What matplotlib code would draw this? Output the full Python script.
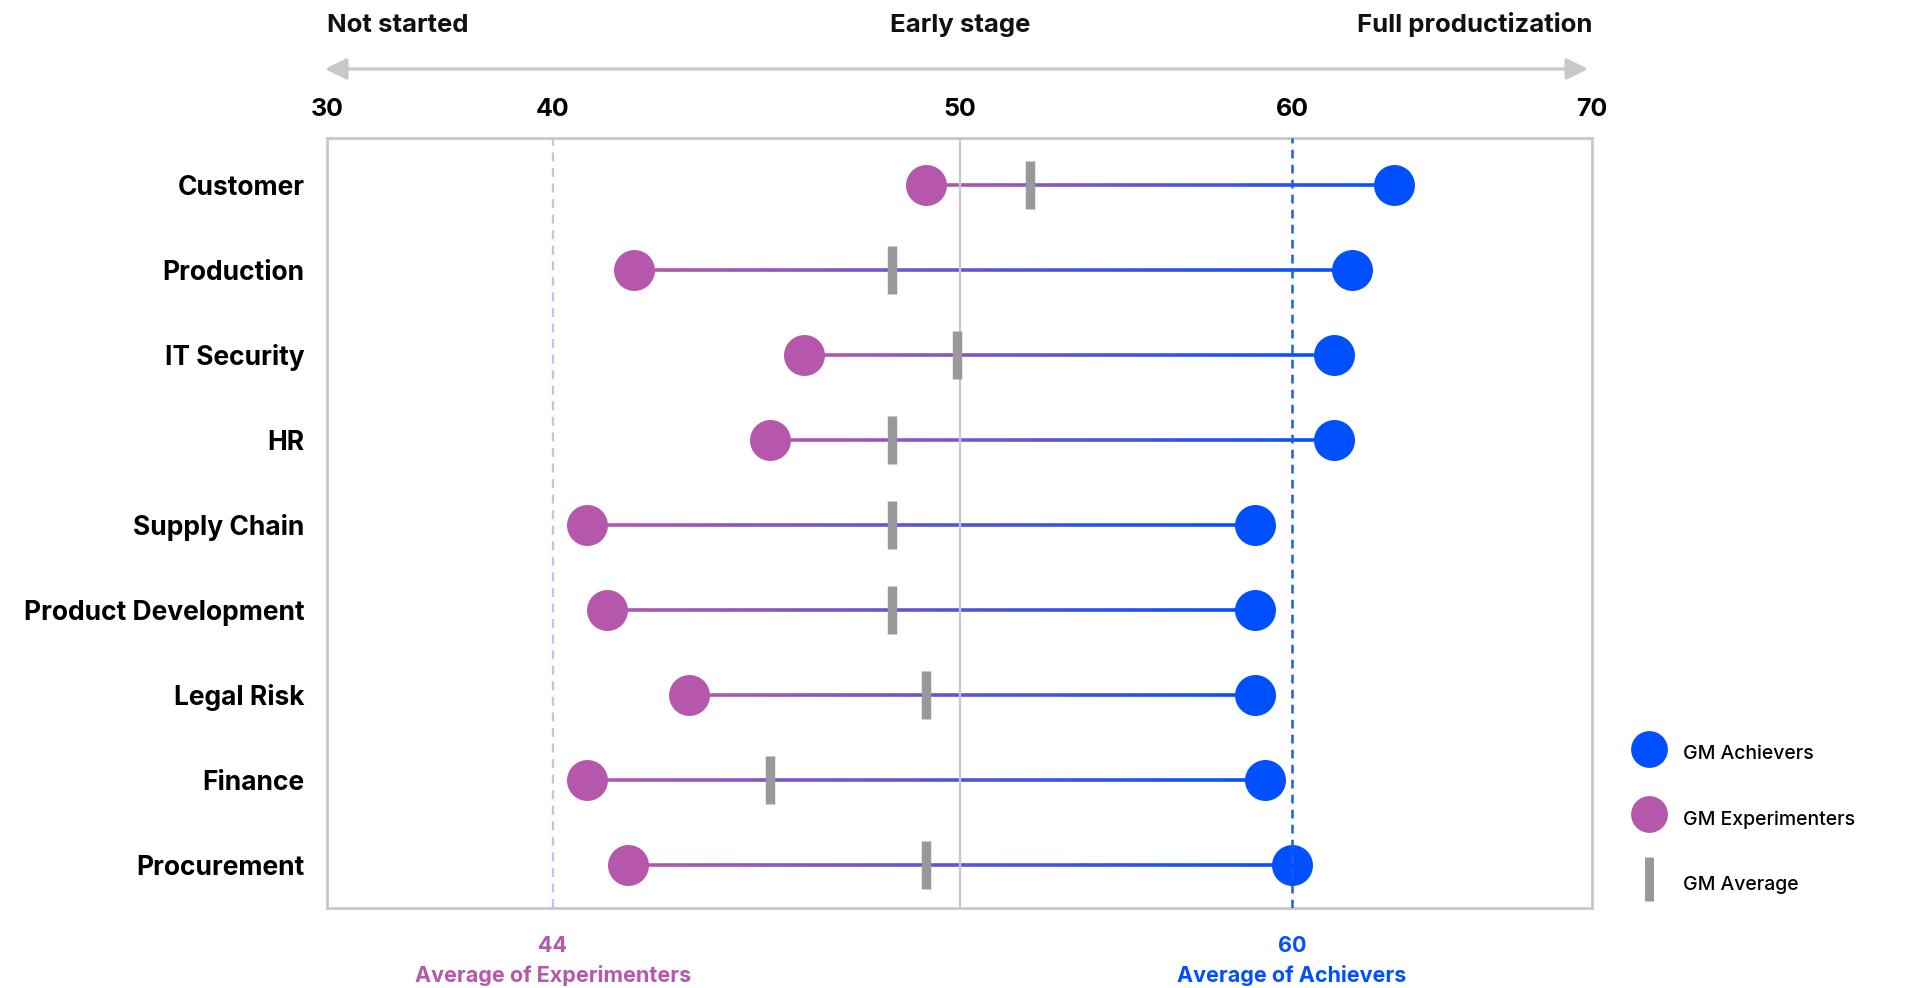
import matplotlib
matplotlib.use('Agg')
import matplotlib.pyplot as plt
import numpy as np
from matplotlib.collections import LineCollection
from matplotlib.lines import Line2D
from matplotlib.colors import to_rgb
from matplotlib.transforms import blended_transform_factory

plt.rcParams['font.family'] = ['Inter', 'DejaVu Sans']

functions = ['Customer', 'Production', 'IT Security', 'HR', 'Supply Chain',
             'Product Development', 'Legal Risk', 'Finance', 'Procurement']
experimenters = [49.5, 45.2, 47.7, 47.2, 44.5, 44.8, 46.0, 44.5, 45.1]
gm_average = [52.1, 49.0, 49.95, 49.0, 49.0, 49.0, 49.5, 47.2, 49.5]
achievers = [63.4, 62.0, 61.4, 61.4, 58.9, 58.9, 58.9, 59.2, 60.0]

avg_experimenters = 44
avg_achievers = 60
midpoint = 50

# axis is stretched piecewise between these breakpoints
scale_vals = [30, 44, 50, 60, 70]
scale_span = [0, 226, 633, 965, 1265]
tick_vals = [30, 44, 50, 60, 70]
tick_labels = ['30', '40', '50', '60', '70']
stage_vals = [30, 50, 70]
stages = ['Not started', 'Early stage', 'Full productization']

PURPLE = '#B558AB'
BLUE = '#0050FF'
GRAY = '#999999'
FRAME = '#C8C8C8'


def fwd(v):
    return np.interp(v, scale_vals, scale_span)


def inv(p):
    return np.interp(p, scale_span, scale_vals)


fig = plt.figure(figsize=(19.1, 9.88), dpi=100)
ax = fig.add_axes([0.1712, 0.0810, 0.6623, 0.7794])
ax.set_xscale('function', functions=(fwd, inv))
ax.set_xlim(30, 70)
ax.set_ylim(8.506, -0.553)

y = np.arange(len(functions))

# gradient connectors, evenly split in screen space
c0, c1 = np.array(to_rgb(PURPLE)), np.array(to_rgb(BLUE))
for yi, a, b in zip(y, experimenters, achievers):
    p = np.linspace(fwd(a), fwd(b), 120)
    xs = inv(p)
    segs = [[(xs[i], yi), (xs[i + 1], yi)] for i in range(len(xs) - 1)]
    t = np.linspace(0, 1, len(segs))[:, None]
    cols = c0 * (1 - t) + c1 * t
    lc = LineCollection(segs, colors=cols, linewidths=2.6, capstyle='butt', zorder=1)
    ax.add_collection(lc)

ax.axvline(midpoint, color=FRAME, lw=1.6, zorder=2)
ax.axvline(avg_experimenters, color='#D4B6FB', lw=1.6, ls=(0, (4, 3)), zorder=2)

ax.plot(gm_average, y, ls='none', marker='|', ms=34, mew=6.8, color=GRAY, zorder=3)
ax.plot(experimenters, y, ls='none', marker='o', ms=29.5, color=PURPLE, mec='none', zorder=4)
ax.plot(achievers, y, ls='none', marker='o', ms=29.5, color=BLUE, mec='none', zorder=4)

ax.axvline(avg_achievers, color='#1E5BF0', lw=1.8, ls=(0, (3.5, 2.5)), zorder=5)

for s in ax.spines.values():
    s.set_color(FRAME)
    s.set_linewidth(2)

ax.xaxis.tick_top()
ax.set_xticks(tick_vals, tick_labels)
ax.xaxis.set_minor_locator(matplotlib.ticker.NullLocator())
ax.tick_params(axis='x', length=0, pad=12, labelsize=18)
for lbl in ax.get_xticklabels():
    lbl.set_fontweight('bold')

ax.set_yticks(y, functions)
ax.tick_params(axis='y', length=0, pad=16, labelsize=19)
for lbl in ax.get_yticklabels():
    lbl.set_fontweight('bold')

# stage headings and arrow above the axis
tr = blended_transform_factory(ax.transData, fig.transFigure)
for v, s, ha in zip(stage_vals, stages, ['left', 'center', 'right']):
    ax.text(v, 0.9676, s, transform=tr, ha=ha, va='baseline',
            fontsize=18.5, fontweight='bold', color='#111111')

ax.annotate('', xy=(0.1702, 0.9302), xytext=(0.8314, 0.9302),
            xycoords='figure fraction', textcoords='figure fraction',
            arrowprops=dict(arrowstyle='<|-|>,head_length=1.3,head_width=0.65',
                            mutation_scale=10, color=FRAME, lw=2.4,
                            shrinkA=0, shrinkB=0))

# averages below the axis
for v, name, col in [(avg_experimenters, 'Average of Experimenters', PURPLE),
                     (avg_achievers, 'Average of Achievers', BLUE)]:
    ax.text(v, 0.0364, str(v), transform=tr, ha='center', va='baseline',
            fontsize=15.5, fontweight='bold', color=col)
    ax.text(v, 0.0061, name, transform=tr, ha='center', va='baseline',
            fontsize=15.5, fontweight='bold', color=col)

handles = [
    Line2D([], [], ls='none', marker='o', ms=26.5, color=BLUE, mec='none'),
    Line2D([], [], ls='none', marker='o', ms=26.5, color=PURPLE, mec='none'),
    Line2D([], [], ls='none', marker='|', ms=32, mew=6.5, color=GRAY),
]
fig.legend(handles, ['GM Achievers', 'GM Experimenters', 'GM Average'],
           loc='upper left', bbox_to_anchor=(0.8536, 0.2530), frameon=False,
           fontsize=14, handlelength=1.9, handleheight=2.0, labelspacing=1.82,
           handletextpad=0.8, borderpad=0, borderaxespad=0,
           prop={'size': 14, 'weight': 'medium'})

fig.savefig('out.png', dpi=100, facecolor='white')
